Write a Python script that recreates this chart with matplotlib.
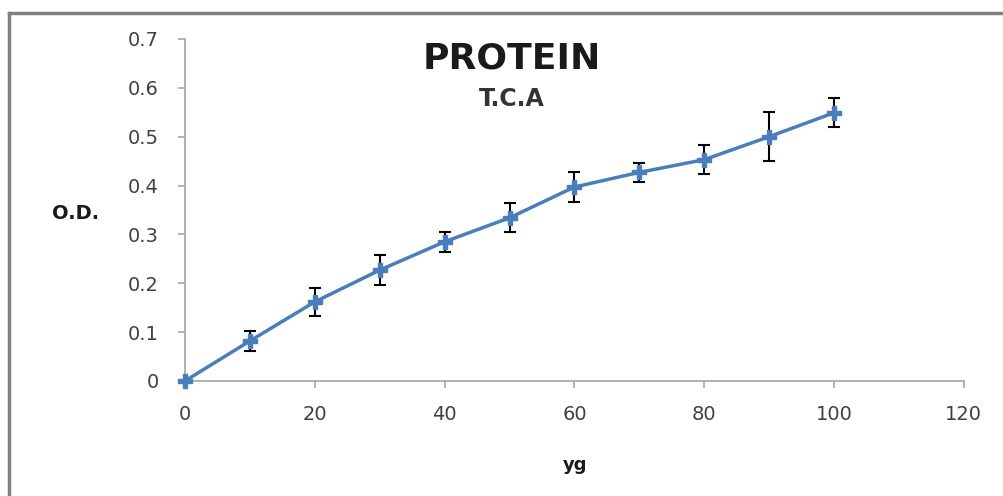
import numpy as np
import matplotlib
matplotlib.use("Agg")
import matplotlib.pyplot as plt
from matplotlib.lines import Line2D

# values
conc = [0, 10, 20, 30, 40, 50, 60, 70, 80, 90, 100]
od = [0.0, 0.082, 0.162, 0.227, 0.285, 0.334, 0.397, 0.427, 0.453, 0.500, 0.549]
err = [0.0, 0.020, 0.029, 0.030, 0.020, 0.030, 0.030, 0.020, 0.029, 0.050, 0.030]
xticks = [0, 20, 40, 60, 80, 100, 120]
yticks = [0, 0.1, 0.2, 0.3, 0.4, 0.5, 0.6, 0.7]

fig = plt.figure(figsize=(10.04, 4.96), dpi=100)
ax = fig.add_axes([0.1843, 0.2319, 0.7757, 0.6895])

ax.errorbar(conc, od, yerr=err, color='#4A7EBB', lw=2.5, marker='P', ms=10,
            mfc='#4A7EBB', mec='#4A7EBB', ecolor='black', elinewidth=1.5,
            capsize=4, capthick=1.5, clip_on=False, zorder=3)

ax.set_xlim(0, 120)
ax.set_ylim(0, 0.7)
ax.set_xticks(xticks)
ax.set_yticks(yticks)
ax.set_xticklabels([str(t) for t in xticks])
ax.set_yticklabels(['0', '0.1', '0.2', '0.3', '0.4', '0.5', '0.6', '0.7'])

for s in ['top', 'right']:
    ax.spines[s].set_visible(False)
for s in ['left', 'bottom']:
    ax.spines[s].set_color('#A6A6A6')
    ax.spines[s].set_linewidth(1.2)
ax.tick_params(axis='both', colors='#A6A6A6', length=5, width=1.2,
               labelcolor='#404040', labelsize=14)
ax.tick_params(axis='x', pad=12)
ax.tick_params(axis='y', pad=14)

fig.text(0.51, 0.883, 'PROTEIN', fontsize=26, fontweight='bold', ha='center', va='center', color='#1a1a1a')
fig.text(0.51, 0.80, 'T.C.A', fontsize=17, fontweight='bold', ha='center', va='center', color='#333333')
fig.text(0.075, 0.57, 'O.D.', fontsize=14, fontweight='bold', ha='center', va='center', color='#1a1a1a')
fig.text(0.573, 0.062, 'yg', fontsize=13, fontweight='bold', ha='center', va='center', color='#1a1a1a')

# frame lines on top and left edge
fig.add_artist(Line2D([0.009, 1.0], [0.973, 0.973], color='#808080', lw=2.5, transform=fig.transFigure))
fig.add_artist(Line2D([0.009, 0.009], [0.0, 0.973], color='#808080', lw=2.5, transform=fig.transFigure))

fig.savefig('out.png', dpi=100, facecolor='white')
